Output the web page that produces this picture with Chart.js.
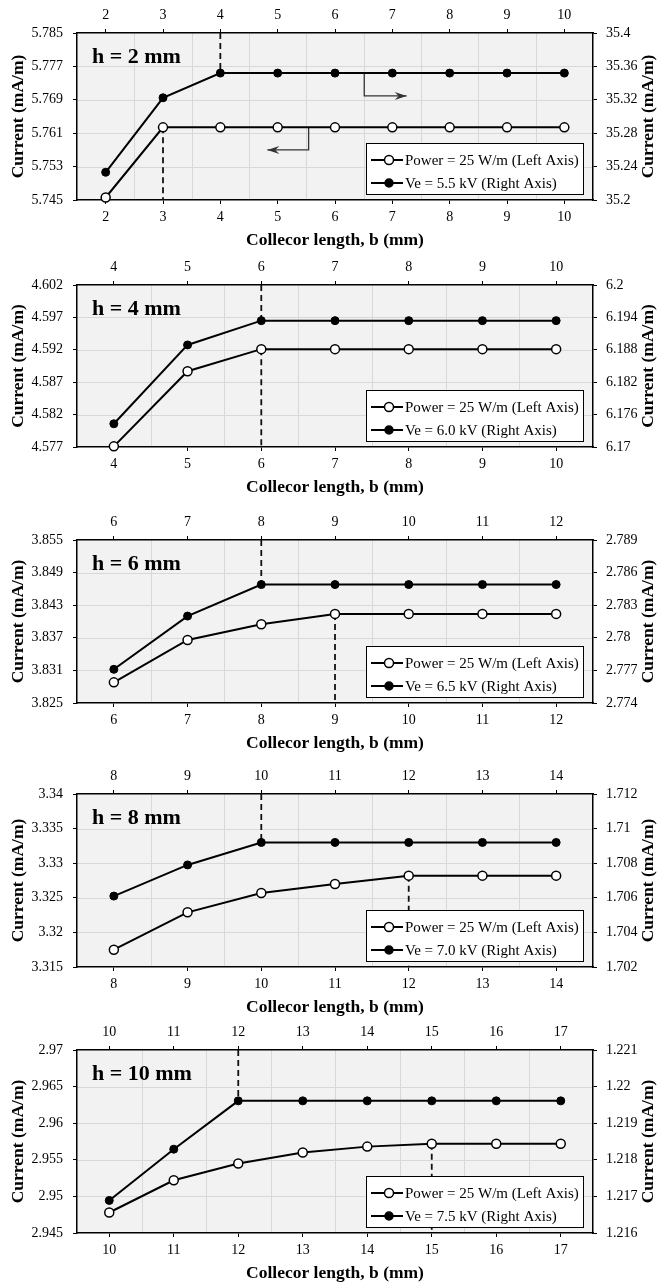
<!DOCTYPE html>
<html><head><meta charset="utf-8">
<script src="https://cdn.jsdelivr.net/npm/chart.js@4.4.1/dist/chart.umd.min.js"></script>
<style>
html,body{margin:0;padding:0;background:#fff;}
body{width:662px;height:1287px;position:relative;overflow:hidden;}
canvas{position:absolute;left:0;}
</style></head><body>
<canvas id="c1"></canvas><canvas id="c2"></canvas><canvas id="c3"></canvas><canvas id="c4"></canvas><canvas id="c5"></canvas>
<script>
// ---------- DATA ----------
// h = 2 mm
const x1 = [2,3,4,5,6,7,8,9,10];
const power1 = [5.7456,5.7624,5.7624,5.7624,5.7624,5.7624,5.7624,5.7624,5.7624];
const ve1 = [35.2332,35.3224,35.352,35.352,35.352,35.352,35.352,35.352,35.352];
const left1 = [5.745,5.753,5.761,5.769,5.777,5.785];
const right1 = [35.2,35.24,35.28,35.32,35.36,35.4];
// h = 4 mm
const x2 = [4,5,6,7,8,9,10];
const power2 = [4.5771,4.5887,4.5921,4.5921,4.5921,4.5921,4.5921];
const ve2 = [6.1743,6.1889,6.1934,6.1934,6.1934,6.1934,6.1934];
const left2 = [4.577,4.582,4.587,4.592,4.597,4.602];
const right2 = [6.17,6.176,6.182,6.188,6.194,6.2];
// h = 6 mm
const x3 = [6,7,8,9,10,11,12];
const power3 = [3.8288,3.8366,3.8395,3.8414,3.8414,3.8414,3.8414];
const ve3 = [2.7771,2.7820,2.7849,2.7849,2.7849,2.7849,2.7849];
const left3 = [3.825,3.831,3.837,3.843,3.849,3.855];
const right3 = [2.774,2.777,2.78,2.783,2.786,2.789];
// h = 8 mm
const x4 = [8,9,10,11,12,13,14];
const power4 = [3.3175,3.3229,3.3257,3.3270,3.3282,3.3282,3.3282];
const ve4 = [1.7061,1.7079,1.7092,1.7092,1.7092,1.7092,1.7092];
const left4 = [3.315,3.32,3.325,3.33,3.335,3.34];
const right4 = [1.702,1.704,1.706,1.708,1.71,1.712];
// h = 10 mm
const x5 = [10,11,12,13,14,15,16,17];
const power5 = [2.9478,2.9522,2.9545,2.9560,2.9568,2.9572,2.9572,2.9572];
const ve5 = [1.21689,1.21829,1.21961,1.21961,1.21961,1.21961,1.21961,1.21961];
const left5 = [2.945,2.95,2.955,2.96,2.965,2.97];
const right5 = [1.216,1.217,1.218,1.219,1.22,1.221];

const hLabels = ['h = 2 mm','h = 4 mm','h = 6 mm','h = 8 mm','h = 10 mm'];
const powerLabel = 'Power = 25 W/m (Left Axis)';
const veLabels = ['Ve = 5.5 kV (Right Axis)','Ve = 6.0 kV (Right Axis)','Ve = 6.5 kV (Right Axis)','Ve = 7.0 kV (Right Axis)','Ve = 7.5 kV (Right Axis)'];
const satVe = [4,6,8,10,12];     // x where Ve curve saturates (dashed, upper)
const satPower = [3,6,9,12,15];  // x where Power curve saturates (dashed, lower)
// arrows in panel 1 (data units)
const arrowLeftX = [5.54,5.54,4.82], arrowLeftY = [5.7624,5.757,5.757];
const arrowRightX = [6.51,6.51,7.25], arrowRightY = [35.352,35.3246,35.3246];

const xTitle = 'Collecor length, b (mm)';
const yTitle = 'Current (mA/m)';

// ---------- LAYOUT ----------
const FONT = '"Liberation Serif","Times New Roman",serif';
const W = 662, LEFTW = 77, RIGHTW = 69, TOPH = 33, BOTH = 52;
const layout = [
  {plotTop:33, plotH:167},
  {plotTop:285, plotH:162},
  {plotTop:540, plotH:163},
  {plotTop:794, plotH:173},
  {plotTop:1050, plotH:183}
];

const panels = [
  {xs:x1,p:power1,v:ve1,l:left1,r:right1},
  {xs:x2,p:power2,v:ve2,l:left2,r:right2},
  {xs:x3,p:power3,v:ve3,l:left3,r:right3},
  {xs:x4,p:power4,v:ve4,l:left4,r:right4},
  {xs:x5,p:power5,v:ve5,l:left5,r:right5}
];

const fmt = v => String(+(+v).toFixed(4));

function arrowHead(ctx, x, y, dir){
  ctx.beginPath();
  ctx.moveTo(x, y);
  ctx.lineTo(x - dir*12, y - 4);
  ctx.lineTo(x - dir*8, y);
  ctx.lineTo(x - dir*12, y + 4);
  ctx.closePath();
  ctx.fill();
}

const deco = {
  id:'deco',
  beforeDraw(chart, args, o){
    const {ctx, chartArea:a, scales} = chart;
    ctx.save();
    ctx.fillStyle = '#f2f2f2';
    ctx.fillRect(a.left, a.top, a.right-a.left, a.bottom-a.top);
    ctx.strokeStyle = '#d8d8d8';
    ctx.lineWidth = 1;
    ctx.beginPath();
    for (let i=0;i<o.xs.length-1;i++){
      const px = Math.round(scales.x.getPixelForValue((o.xs[i]+o.xs[i+1])/2))+0.5;
      ctx.moveTo(px, a.top); ctx.lineTo(px, a.bottom);
    }
    for (let i=1;i<o.l.length-1;i++){
      const py = Math.round(scales.y.getPixelForValue(o.l[i]))+0.5;
      ctx.moveTo(a.left, py); ctx.lineTo(a.right, py);
    }
    ctx.stroke();
    ctx.restore();
  },
  beforeDatasetsDraw(chart, args, o){
    const {ctx, chartArea:a, scales} = chart;
    ctx.save();
    ctx.strokeStyle = '#111';
    ctx.lineWidth = 1.8;
    ctx.setLineDash([6,4]);
    const iv = o.xs.indexOf(o.satVe), ip = o.xs.indexOf(o.satPower);
    let px = scales.x.getPixelForValue(o.satVe);
    ctx.beginPath();
    ctx.moveTo(px, a.top); ctx.lineTo(px, scales.y2.getPixelForValue(o.v[iv]));
    ctx.stroke();
    px = scales.x.getPixelForValue(o.satPower);
    ctx.beginPath();
    ctx.moveTo(px, scales.y.getPixelForValue(o.p[ip])); ctx.lineTo(px, a.bottom);
    ctx.stroke();
    ctx.setLineDash([]);
    if (o.arrows){
      ctx.strokeStyle = '#333'; ctx.fillStyle = '#333'; ctx.lineWidth = 1.3;
      const draw = (xs, ys, sc) => {
        const pts = xs.map((x,i)=>[scales.x.getPixelForValue(x), sc.getPixelForValue(ys[i])]);
        ctx.beginPath();
        ctx.moveTo(pts[0][0], pts[0][1]);
        for (let k=1;k<pts.length;k++) ctx.lineTo(pts[k][0], pts[k][1]);
        ctx.stroke();
        const n = pts.length-1;
        arrowHead(ctx, pts[n][0], pts[n][1], pts[n][0] > pts[n-1][0] ? 1 : -1);
      };
      draw(arrowLeftX, arrowLeftY, scales.y);
      draw(arrowRightX, arrowRightY, scales.y2);
    }
    ctx.restore();
  },
  afterDraw(chart, args, o){
    const {ctx, chartArea:a} = chart;
    ctx.save();
    ctx.fillStyle = '#000';
    // h label
    ctx.font = 'bold 22px ' + FONT;
    ctx.textAlign = 'left'; ctx.textBaseline = 'middle';
    ctx.fillText(o.hLabel, a.left + 15, a.top + 24);
    // bottom title
    ctx.font = 'bold 17.5px ' + FONT;
    ctx.textAlign = 'center';
    ctx.fillText(xTitle, (a.left + a.right)/2, a.bottom + 40);
    // y titles
    const cy = (a.top + a.bottom)/2;
    ctx.save(); ctx.translate(18.5, cy); ctx.rotate(-Math.PI/2);
    ctx.fillText(yTitle, 0, 0); ctx.restore();
    ctx.save(); ctx.translate(648, cy); ctx.rotate(-Math.PI/2);
    ctx.fillText(yTitle, 0, 0); ctx.restore();
    // legend
    const bw = 217, bh = 51;
    const bx = a.right - 10 - bw, by = a.bottom - 6 - bh;
    ctx.fillStyle = '#fff';
    ctx.fillRect(bx, by, bw, bh);
    ctx.strokeStyle = '#000'; ctx.lineWidth = 1;
    ctx.strokeRect(Math.round(bx)+0.5, Math.round(by)+0.5, bw, bh);
    const rows = [[by+17, true, powerLabel],[by+40, false, o.veLabel]];
    ctx.font = '15px ' + FONT; ctx.textAlign = 'left'; ctx.textBaseline = 'middle';
    for (const [ry, open, txt] of rows){
      ctx.strokeStyle = '#000'; ctx.lineWidth = 2;
      ctx.beginPath(); ctx.moveTo(bx+5, ry); ctx.lineTo(bx+37, ry); ctx.stroke();
      ctx.beginPath(); ctx.arc(bx+23, ry, open?4.5:4, 0, Math.PI*2);
      ctx.fillStyle = open ? '#fff' : '#000'; ctx.fill();
      ctx.lineWidth = 1.5; ctx.stroke();
      ctx.fillStyle = '#000';
      ctx.fillText(txt, bx+39, ry+1);
    }
    ctx.restore();
  }
};

function makeChart(i){
  const P = panels[i], L = layout[i];
  const cv = document.getElementById('c'+(i+1));
  const H = TOPH + L.plotH + BOTH;
  cv.width = W; cv.height = H;
  cv.style.top = (L.plotTop - TOPH) + 'px';
  const xmin = P.xs[0]-0.5, xmax = P.xs[P.xs.length-1]+0.5;
  const tickFont = {family: FONT, size: 14};
  const gridOpt = {display:true, drawOnChartArea:false, drawTicks:true, tickLength:4, color:'#000', lineWidth:1};
  const borderOpt = {display:true, color:'#000', width:1.5};
  const xAxis = (pos, h, pad) => ({
    type:'linear', position:pos, min:xmin, max:xmax,
    grid:gridOpt, border:borderOpt,
    ticks:{font:tickFont, color:'#000', padding:pad, autoSkip:false, maxRotation:0, callback:fmt},
    afterBuildTicks: s => { s.ticks = P.xs.map(v=>({value:v})); },
    afterFit: s => { s.height = h; }
  });
  const yAxis = (pos, vals, w, pad) => ({
    type:'linear', position:pos, min:vals[0], max:vals[vals.length-1],
    grid:gridOpt, border:borderOpt,
    ticks:{font:tickFont, color:'#000', padding:pad, autoSkip:false, callback:fmt},
    afterBuildTicks: s => { s.ticks = vals.map(v=>({value:v})); },
    afterFit: s => { s.width = w; }
  });
  new Chart(cv, {
    type:'line',
    data:{
      labels: P.xs,
      datasets:[
        {label:powerLabel, data:P.xs.map((x,k)=>({x, y:P.p[k]})), xAxisID:'x', yAxisID:'y',
         borderColor:'#000', borderWidth:2, pointRadius:4.5, pointBorderWidth:1.5,
         pointBackgroundColor:'#fff', pointBorderColor:'#000', clip:false, tension:0},
        {label:veLabels[i], data:P.xs.map((x,k)=>({x, y:P.v[k]})), xAxisID:'x', yAxisID:'y2',
         borderColor:'#000', borderWidth:2, pointRadius:4, pointBorderWidth:1,
         pointBackgroundColor:'#000', pointBorderColor:'#000', clip:false, tension:0}
      ]
    },
    options:{
      responsive:false, animation:false, devicePixelRatio:1,
      layout:{padding:0},
      scales:{
        x: xAxis('bottom', BOTH, 5),
        x2: xAxis('top', TOPH, 5),
        y: yAxis('left', P.l, LEFTW, 10),
        y2: yAxis('right', P.r, RIGHTW, 9)
      },
      plugins:{
        legend:{display:false}, tooltip:{enabled:false},
        deco:{xs:P.xs, l:P.l, p:P.p, v:P.v, satVe:satVe[i], satPower:satPower[i],
              hLabel:hLabels[i], veLabel:veLabels[i], arrows:i===0}
      }
    },
    plugins:[deco]
  });
}
for (let i=0;i<5;i++) makeChart(i);
</script>
</body></html>
